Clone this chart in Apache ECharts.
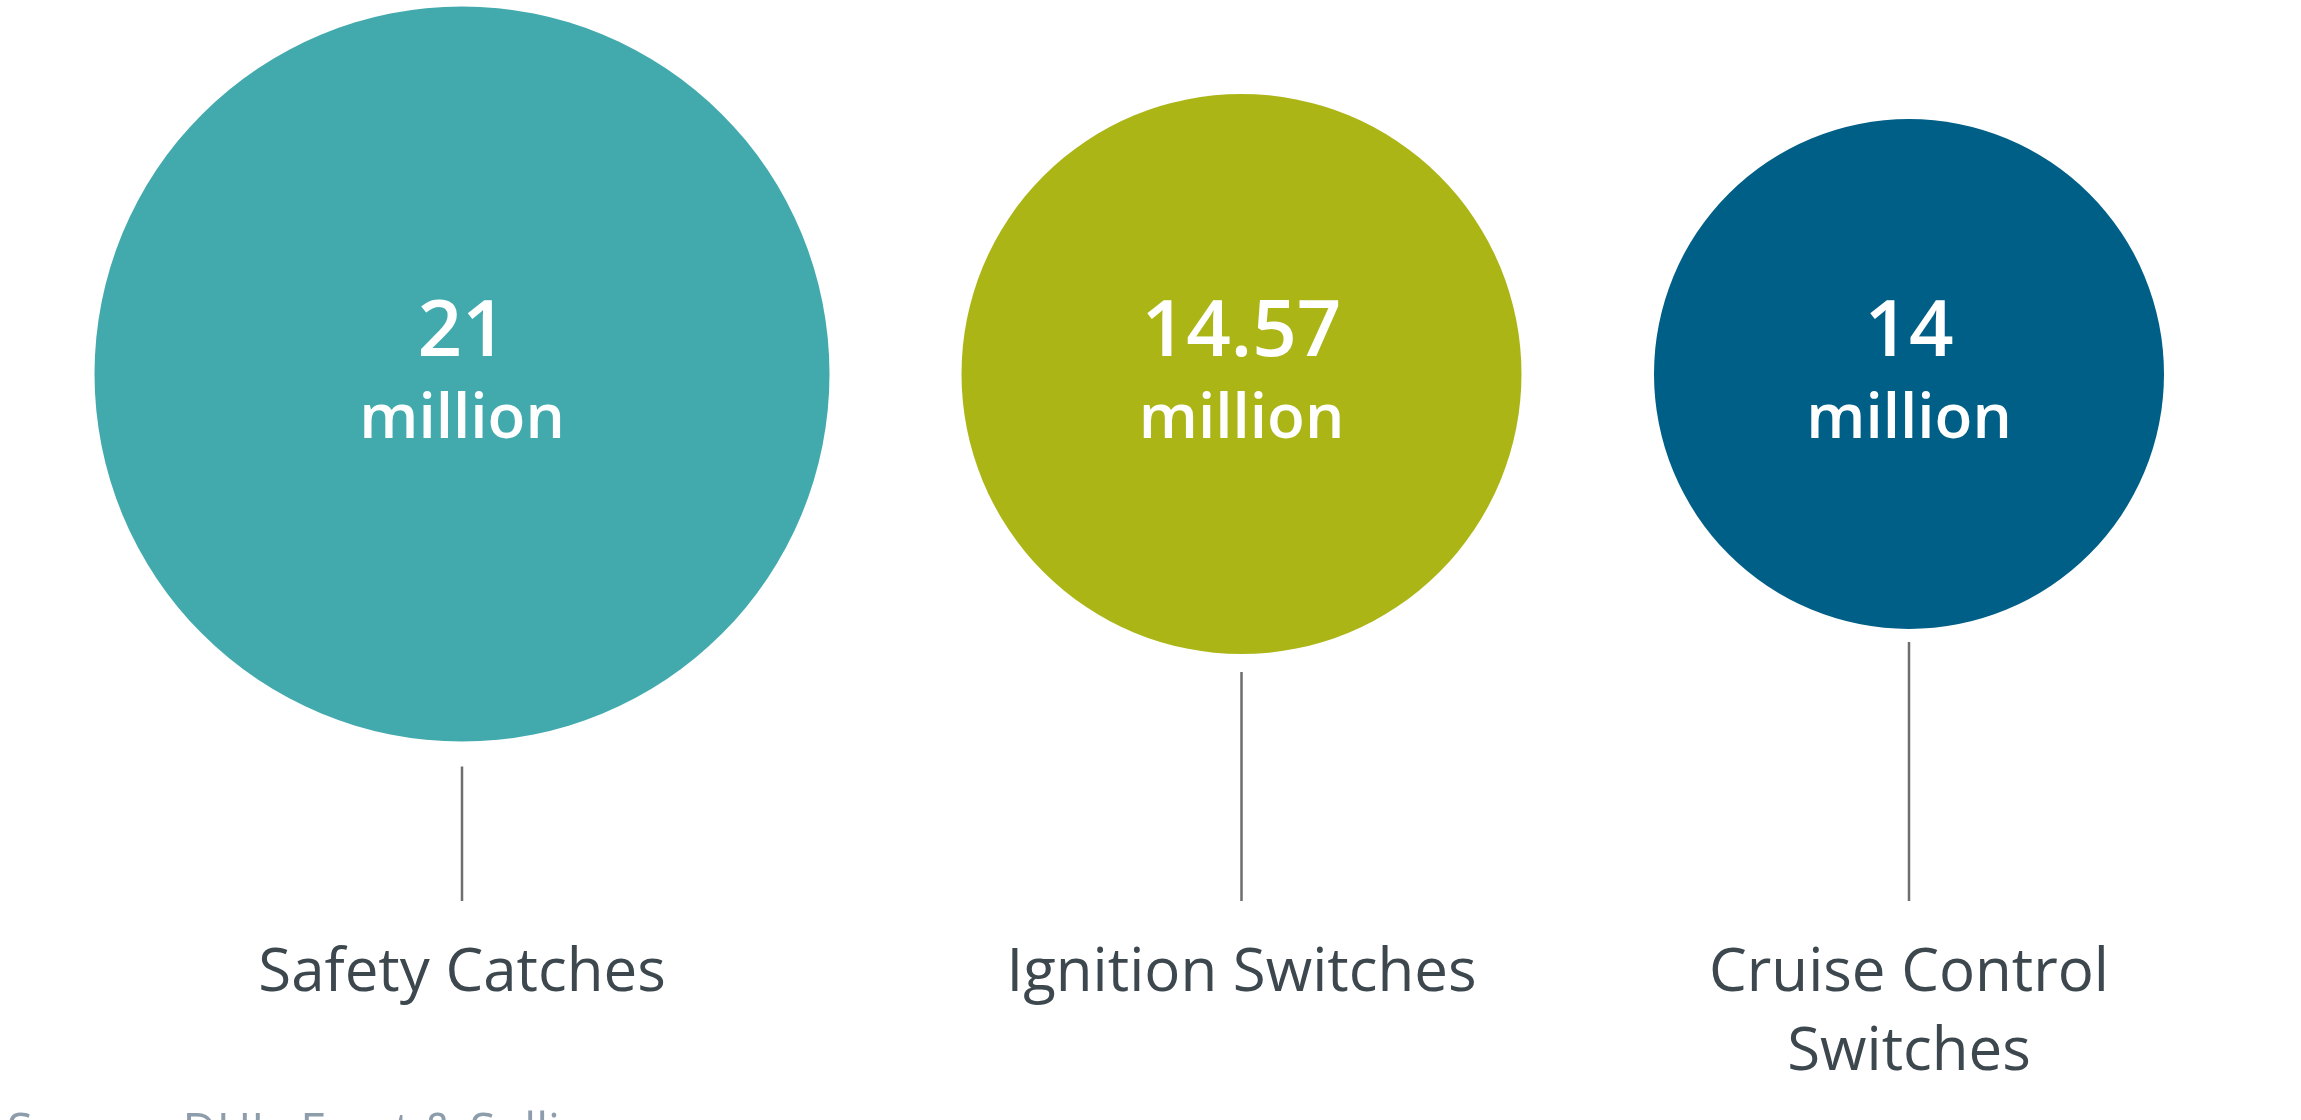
<!DOCTYPE html>
<html>
<head>
<meta charset="utf-8">
<script src="https://cdn.jsdelivr.net/npm/echarts@6/dist/echarts.min.js"></script>
<style>
html,body{margin:0;padding:0;background:#fff;}
#chart{width:2301px;height:1120px;}
</style>
</head>
<body>
<div id="chart"></div>
<script>
// ---- data ----
const categories = ['Safety Catches', 'Ignition Switches', 'Cruise Control\nSwitches'];
const values = [21, 14.57, 14];
const valueUnit = 'million';
const sourceText = 'Source: DHL, Frost & Sullivan';

// ---- layout & style ----
const circleColors = ['#42AAAD', '#ABB616', '#005F87'];
const circleDiameters = [735, 560, 510];
const gridCenters = [462, 1241.5, 1909];
const connectorGaps = [25, 18, 13];
const connectorEnd = 527;      // below circle centre
const labelTop = 560;          // below circle centre
const valueOffset = -40;
const unitOffset = 46;

const chart = echarts.init(document.getElementById('chart'), null, {renderer: 'canvas'});

const grids = [], xAxes = [], yAxes = [], series = [];
categories.forEach((cat, i) => {
  grids.push({left: gridCenters[i] - 200, width: 400, top: 0, height: 748});
  xAxes.push({type: 'category', gridIndex: i, data: [cat], show: false});
  yAxes.push({type: 'value', gridIndex: i, min: -1, max: 1, show: false});
  series.push({
    type: 'custom',
    xAxisIndex: i,
    yAxisIndex: i,
    data: [[cat, 0, values[i]]],
    encode: {x: 0, y: 1},
    silent: true,
    renderItem: function (params, api) {
      const k = params.seriesIndex;
      const c = api.coord([api.value(0), api.value(1)]);
      const r = circleDiameters[k] / 2;
      const v = api.value(2);
      return {
        type: 'group',
        children: [
          {type: 'circle', shape: {cx: c[0], cy: c[1], r: r}, style: {fill: circleColors[k]}},
          {type: 'text', x: c[0], y: c[1] + valueOffset, style: {
            text: String(v), fill: '#ffffff', align: 'center', verticalAlign: 'middle',
            font: '600 78px "Open Sans"'}},
          {type: 'text', x: c[0], y: c[1] + unitOffset, style: {
            text: valueUnit, fill: '#ffffff', align: 'center', verticalAlign: 'middle',
            font: '600 62px "Open Sans"'}},
          {type: 'line', shape: {x1: c[0], y1: c[1] + r + connectorGaps[k], x2: c[0], y2: c[1] + connectorEnd},
            style: {stroke: '#6e6e6e', lineWidth: 2.5}},
          {type: 'text', x: c[0], y: c[1] + labelTop, style: {
            text: categories[k], fill: '#3d474e', align: 'center', verticalAlign: 'top',
            font: '400 60px "Open Sans"', lineHeight: 79}}
        ]
      };
    }
  });
});

chart.setOption({
  animation: false,
  backgroundColor: '#ffffff',
  grid: grids,
  xAxis: xAxes,
  yAxis: yAxes,
  series: series,
  graphic: [{
    type: 'text', left: 7, top: 1110,
    style: {text: sourceText, fill: '#8d9dac', font: '400 47px "Open Sans"'}
  }]
});
</script>
</body>
</html>
